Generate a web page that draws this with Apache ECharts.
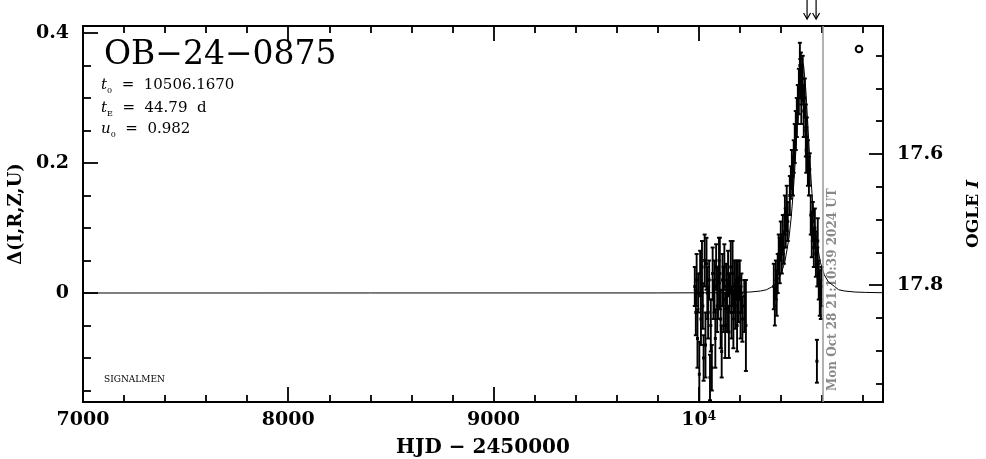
<!DOCTYPE html>
<html>
<head>
<meta charset="utf-8">
<script src="https://cdn.jsdelivr.net/npm/echarts@6/dist/echarts.min.js"></script>
<style>html,body{margin:0;padding:0;background:#fff}#c{width:986px;height:459px}</style>
</head>
<body>
<div id="c"></div>
<script>
// ---- data ----
// OGLE observations: HJD-2450000, Delta flux, error
const obsT = [9981,9986,9990,9994,9998,10003,10007,10011,10016,10020,10024,10029,10033,10038,10042,10046,10051,10055,10059,10064,10068,10072,10077,10081,10085,10090,10094,10099,10103,10107,10112,10116,10121,10125,10129,10134,10138,10143,10147,10151,10156,10160,10165,10169,10173,10178,10182,10187,10191,10195,10200,10204,10208,10213,10222,10230,
  10366,10371,10376,10380,10385,10390,10395,10400,10405,10410,10415,10420,10424,10429,10434,10444,10449,10454,10459,10463,10468,10473,10478,10483,10488,10493,10495,10498,10500,10502,10507,10512,10517,10522,10524,10527,10532,10537,10541,10546,10551,10556,10561,10566,10571,10576,10578,10580,10585,10590,10595,10598];
const obsDelta = [0.01,-0.03,0.02,-0.07,0.00,-0.125,0.03,-0.04,0.04,-0.02,-0.10,0.05,-0.08,0.045,0.00,-0.03,0.02,-0.13,-0.05,-0.115,0.03,-0.01,0.01,-0.07,0.04,-0.02,0.00,0.05,0.03,-0.04,-0.09,0.02,-0.01,0.04,-0.05,0.01,-0.02,0.03,-0.06,0.00,0.04,-0.03,0.03,-0.04,0.01,-0.02,0.02,-0.05,0.01,-0.01,0.02,-0.03,0.00,-0.04,-0.02,-0.05,
  0.01,-0.02,0.02,0.00,0.03,0.06,0.05,0.08,0.06,0.09,0.07,0.12,0.10,0.13,0.11,0.15,0.17,0.19,0.18,0.21,0.23,0.25,0.27,0.29,0.31,0.35,0.33,0.34,0.30,0.32,0.33,0.28,0.30,0.25,0.22,0.24,0.20,0.18,0.19,0.12,0.09,0.11,0.07,0.10,0.06,-0.105,0.04,0.08,0.02,0.00,-0.01,0.01];
const obsErr = [0.03,0.035,0.04,0.045,0.03,0.05,0.035,0.04,0.04,0.035,0.035,0.04,0.05,0.04,0.04,0.04,0.03,0.035,0.04,0.035,0.04,0.03,0.04,0.045,0.035,0.04,0.04,0.035,0.055,0.045,0.04,0.04,0.05,0.035,0.05,0.035,0.04,0.035,0.04,0.03,0.04,0.04,0.05,0.045,0.04,0.035,0.03,0.04,0.04,0.035,0.03,0.04,0.03,0.035,0.04,0.07,
  0.035,0.03,0.03,0.035,0.03,0.03,0.035,0.03,0.03,0.03,0.025,0.03,0.03,0.035,0.03,0.03,0.025,0.03,0.03,0.025,0.03,0.03,0.03,0.03,0.035,0.035,0.03,0.03,0.04,0.03,0.035,0.04,0.03,0.04,0.035,0.03,0.035,0.03,0.025,0.03,0.035,0.03,0.03,0.03,0.035,0.033,0.03,0.035,0.03,0.035,0.03,0.03];
// model curve
const modelT = [7000,9800,10100,10200,10250,10300,10330,10360,10380,10400,10420,10440,10450,10460,10470,10480,10490,10500,10506,10512,10522,10532,10542,10552,10562,10572,10592,10612,10632,10662,10682,10712,10762,10812,10900];
const modelDelta = [0,0.0001,0.0004,0.0009,0.0015,0.003,0.005,0.010,0.017,0.028,0.048,0.085,0.114,0.152,0.200,0.256,0.310,0.348,0.355,0.348,0.312,0.258,0.202,0.153,0.114,0.086,0.048,0.028,0.017,0.010,0.005,0.003,0.0015,0.0009,0.0004];
// markers
const arrowT = [10528, 10572];
const nowT = [10604];
// axes
const xMajor = [7000, 8000, 9000, 10000];
const xMinor = [7200,7400,7600,7800,8200,8400,8600,8800,9200,9400,9600,9800,10200,10400,10600,10800];
const yMajor = [0, 0.2, 0.4];
const yMinor = [-0.15,-0.1,-0.05,0.05,0.1,0.15,0.25,0.3,0.35];
const magMajor = [17.6, 17.8];
const magMinor = [17.45,17.5,17.55,17.65,17.7,17.75,17.85,17.9,17.95];
const X_MIN = 7000, X_MAX = 10898;
const Y_MIN = -0.1677, Y_MAX = 0.4108;
const MAG_MIN = 17.4046, MAG_MAX = 17.9786;

const SERIF = "'DejaVu Serif', 'Liberation Serif', serif";
const chart = echarts.init(document.getElementById('c'), null, {renderer: 'canvas'});

function xAx(pos, ticks, len, labels) {
  return {
    type: 'value', position: pos, min: X_MIN, max: X_MAX,
    axisLine: {show: true, onZero: false, lineStyle: {color: '#000', width: 2}},
    axisTick: {show: true, inside: true, length: len, customValues: ticks, lineStyle: {color: '#000', width: 1.8}},
    axisLabel: labels ? {
      show: true, customValues: xMajor, margin: 9, color: '#000', fontFamily: SERIF, fontWeight: 'bold', fontSize: 19,
      formatter: v => v === 10000 ? '{a|10}{s|4}' : String(v),
      rich: {a: {fontFamily: SERIF, fontWeight: 'bold', fontSize: 19, color: '#000'},
             s: {fontFamily: SERIF, fontWeight: 'bold', fontSize: 12, color: '#000', verticalAlign: 'top', padding: [0,0,6,0]}}
    } : {show: false},
    splitLine: {show: false}
  };
}
function yAx(pos, min, max, inverse, ticks, len, labelVals, fmt) {
  return {
    type: 'value', position: pos, min: min, max: max, inverse: inverse,
    axisLine: {show: true, onZero: false, lineStyle: {color: '#000', width: 2}},
    axisTick: {show: true, inside: true, length: len, customValues: ticks, lineStyle: {color: '#000', width: 1.8}},
    axisLabel: labelVals ? {show: true, customValues: labelVals, margin: 14, color: '#000', fontFamily: SERIF, fontWeight: 'bold', fontSize: 19, formatter: fmt} : {show: false},
    splitLine: {show: false}
  };
}

const xA = [
  Object.assign(xAx('bottom', xMajor, 15, true), {name: 'HJD − 2450000', nameLocation: 'middle', nameGap: 36,
    nameTextStyle: {color: '#000', fontFamily: SERIF, fontWeight: 'bold', fontSize: 20}}),
  xAx('bottom', xMinor, 7, false),
  xAx('top', xMajor, 15, false),
  xAx('top', xMinor, 7, false)
];
const yA = [
  Object.assign(yAx('left', Y_MIN, Y_MAX, false, yMajor, 15, yMajor, v => v === 0 ? '0' : v.toFixed(1)),
    {name: 'Δ(I,R,Z,U)', nameLocation: 'middle', nameGap: 58, nameRotate: 90,
     nameTextStyle: {color: '#000', fontFamily: SERIF, fontWeight: 'bold', fontSize: 18}}),
  yAx('left', Y_MIN, Y_MAX, false, yMinor, 8, null),
  Object.assign(yAx('right', MAG_MIN, MAG_MAX, true, magMajor, 14, magMajor, v => v.toFixed(1)),
    {name: '{a|OGLE }{b|I}', nameLocation: 'middle', nameGap: 82, nameRotate: 90,
     nameTextStyle: {color: '#000', fontFamily: SERIF, fontWeight: 'bold', fontSize: 17,
       rich: {a: {fontFamily: SERIF, fontWeight: 'bold', fontSize: 17, color: '#000'},
              b: {fontFamily: SERIF, fontWeight: 'bold', fontStyle: 'italic', fontSize: 17, color: '#000'}}}}),
  yAx('right', MAG_MIN, MAG_MAX, true, magMinor, 7, null)
];

const obs = obsT.map((t, i) => [t, obsDelta[i], obsErr[i]]);
const model = modelT.map((t, i) => [t, modelDelta[i]]);

function renderErr(params, api) {
  const t = api.value(0), v = api.value(1), e = api.value(2);
  const p = api.coord([t, v]);
  const hi = api.coord([t, v + e]);
  const lo = api.coord([t, v - e]);
  const st = {stroke: '#000', lineWidth: 1.9, fill: null};
  return {type: 'group', children: [
    {type: 'line', shape: {x1: p[0], y1: hi[1], x2: p[0], y2: lo[1]}, style: st},
    {type: 'line', shape: {x1: p[0] - 2, y1: hi[1], x2: p[0] + 2, y2: hi[1]}, style: st},
    {type: 'line', shape: {x1: p[0] - 2, y1: lo[1], x2: p[0] + 2, y2: lo[1]}, style: st},
    {type: 'rect', shape: {x: p[0] - 1.5, y: p[1] - 1.5, width: 3, height: 3}, style: {fill: '#000'}}
  ]};
}
function renderArrow(params, api) {
  const p = api.coord([api.value(0), Y_MAX]);
  const x = p[0], y = p[1];
  const st = {stroke: '#000', lineWidth: 1.2, fill: null};
  return {type: 'group', children: [
    {type: 'line', shape: {x1: x, y1: y - 26, x2: x, y2: y - 7}, style: st},
    {type: 'polyline', shape: {points: [[x - 3.5, y - 13], [x, y - 7], [x + 3.5, y - 13]]}, style: st}
  ]};
}
const pRich = {
  i: {fontFamily: SERIF, fontStyle: 'italic', fontSize: 15, fill: '#000', lineHeight: 19},
  s: {fontFamily: SERIF, fontSize: 8, fill: '#000', lineHeight: 10, verticalAlign: 'bottom'},
  n: {fontFamily: SERIF, fontSize: 15, fill: '#000', lineHeight: 19}
};

chart.setOption({
  animation: false,
  backgroundColor: '#fff',
  grid: {left: 83, right: 103, top: 26, bottom: 57, containLabel: false, outerBoundsMode: 'none'},
  xAxis: xA,
  yAxis: yA,
  series: [
    {type: 'line', name: 'model', data: model, xAxisIndex: 0, yAxisIndex: 0, showSymbol: false, symbol: 'none',
     lineStyle: {color: '#000', width: 1}, z: 2,
     markLine: {silent: true, symbol: ['none', 'none'], label: {show: false},
       lineStyle: {color: '#999', width: 1.5, type: 'solid'},
       data: nowT.map(t => ({xAxis: t}))}},
    {type: 'custom', name: 'OGLE', data: obs, xAxisIndex: 0, yAxisIndex: 0, renderItem: renderErr, clip: true, z: 3,
     encode: {x: 0, y: 1}},
    {type: 'custom', name: 'arrows', data: arrowT.map(t => [t]), xAxisIndex: 0, yAxisIndex: 0, renderItem: renderArrow, clip: false,
     encode: {x: 0}}
  ],
  graphic: [
    {type: 'text', left: 104, top: 39, style: {text: 'OB−24−0875', fontFamily: SERIF, fontSize: 33, fill: '#000'}},
    {type: 'text', left: 101, top: 78, style: {text: '{i|t}{s|0}{n|  =  10506.1670}', rich: pRich}},
    {type: 'text', left: 101, top: 101, style: {text: '{i|t}{s|E}{n|  =  44.79  d}', rich: pRich}},
    {type: 'text', left: 101, top: 122, style: {text: '{i|u}{s|0}{n|  =  0.982}', rich: pRich}},
    {type: 'text', left: 104, top: 375, style: {text: 'SIGNALMEN', fontFamily: SERIF, fontSize: 9, fill: '#000'}},
    {type: 'circle', shape: {cx: 859, cy: 49, r: 3.3}, style: {fill: 'none', stroke: '#000', lineWidth: 2}},
    {type: 'text', x: 833, y: 391, rotation: Math.PI / 2,
     style: {text: 'Mon Oct 28 21:10:39 2024 UT', fontFamily: SERIF, fontWeight: 'bold', fontSize: 12, fill: '#888',
             align: 'left', verticalAlign: 'middle'}}
  ]
});
</script>
</body>
</html>
